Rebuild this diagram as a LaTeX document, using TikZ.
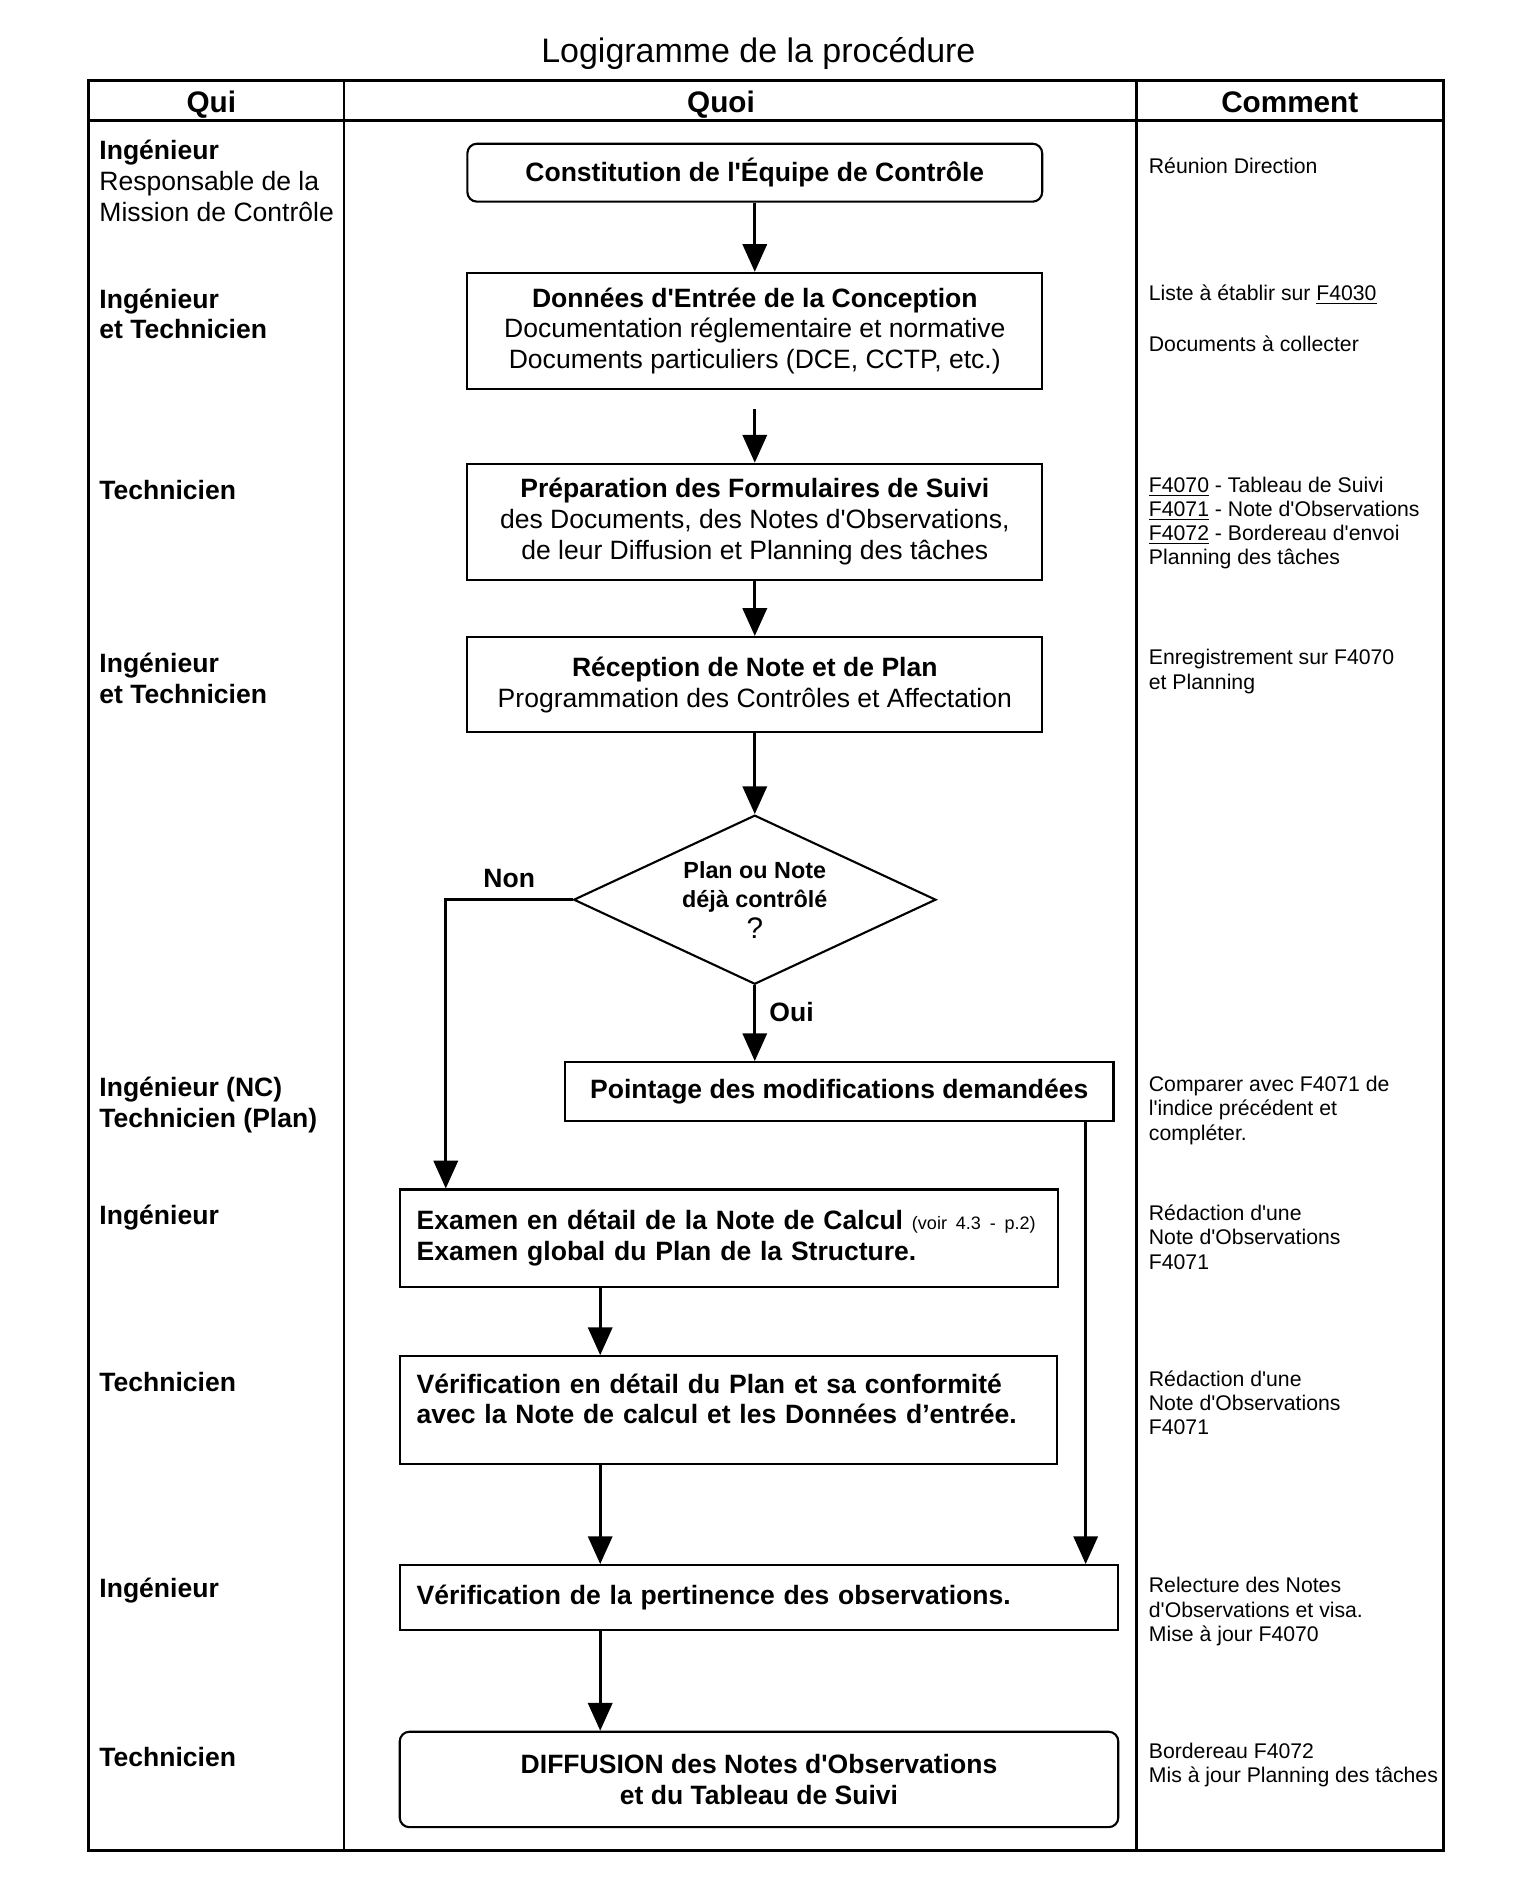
\documentclass[tikz,border=0pt]{standalone}
\usepackage{fontspec}
\setmainfont{Liberation Sans}[Ligatures=TeXOff]
\usetikzlibrary{arrows.meta,shapes.geometric}

\tikzset{
  etape/.style={draw, line width=0.35mm, inner sep=0pt, align=center,
    minimum width=95.2mm, font=\fontsize{12.5}{14.5}\selectfont},
  etapegauche/.style={draw, line width=0.35mm, inner xsep=2.8mm, inner ysep=0pt,
    align=left, font=\fontsize{12.5}{14.5}\selectfont\bfseries},
  qui/.style={anchor=west, align=left, inner sep=0pt, font=\fontsize{12.5}{14.5}\selectfont},
  comment/.style={anchor=west, align=left, inner sep=0pt, font=\fontsize{10}{11.4}\selectfont},
  entete/.style={anchor=base, font=\fontsize{14}{16}\selectfont\bfseries},
  fleche/.style={-{Triangle[width=4mm,length=4.6mm]}, line width=0.5mm},
}

\begin{document}
\begin{tikzpicture}[x=0.2mm,y=-0.2mm]
\useasboundingbox (0,0) rectangle (1272,1570);

% le tableau
\node (titre) at (628,44) {\fontsize{16}{18}\selectfont Logigramme de la procédure};
\draw[line width=0.5mm] (73,67) rectangle (1195,1532);
\draw[line width=0.5mm] (73,100) -- (1195,100);
\draw[line width=0.4mm] (285,67) -- (285,1532);
\draw[line width=0.4mm] (941,67) -- (941,1532);
\node[entete] (hqui) at (175,93) {Qui};
\node[entete] (hquoi) at (597,93) {Quoi};
\node[entete] (hcomment) at (1068,93) {Comment};

% colonne Qui
\node[qui] (qui1) at (82,150) {\textbf{Ingénieur}\\Responsable de la\\Mission de Contrôle};
\node[qui] (qui2) at (82,260) {\textbf{Ingénieur}\\\textbf{et Technicien}};
\node[qui] (qui3) at (82,406) {\textbf{Technicien}};
\node[qui] (qui4) at (82,562) {\textbf{Ingénieur}\\\textbf{et Technicien}};
\node[qui] (qui5) at (82,915) {\textbf{Ingénieur (NC)}\\\textbf{Technicien (Plan)}};
\node[qui] (qui6) at (82,1008) {\textbf{Ingénieur}};
\node[qui] (qui7) at (82,1144) {\textbf{Technicien}};
\node[qui] (qui8) at (82,1317) {\textbf{Ingénieur}};
\node[qui] (qui9) at (82,1455) {\textbf{Technicien}};

% colonne Quoi
\node[etape, rounded corners=1.6mm, minimum height=9.6mm] (c1) at (625,143)
  {\textbf{Constitution de l'Équipe de Contrôle}};
\node[etape, minimum height=19.2mm] (c2) at (625,274)
  {\textbf{Données d'Entrée de la Conception}\\Documentation réglementaire et normative\\Documents particuliers (DCE, CCTP, etc.)};
\node[etape, minimum height=19.2mm] (c3) at (625,432)
  {\textbf{Préparation des Formulaires de Suivi}\\des Documents, des Notes d'Observations,\\de leur Diffusion et Planning des tâches};
\node[etape, minimum height=15.8mm] (c4) at (625,567)
  {\textbf{Réception de Note et de Plan}\\Programmation des Contrôles et Affectation};
\node[draw, diamond, aspect=2.2, line width=0.35mm, inner sep=0pt, minimum width=60mm, minimum height=28mm,
  align=center, font=\fontsize{11}{13.7}\selectfont\bfseries] (q) at (625,745)
  {Plan ou Note\\déjà contrôlé\\[1pt]{\fontsize{14}{14}\selectfont\mdseries ?}};
\node[etape, minimum width=90.8mm, minimum height=9.8mm] (c6) at (695,904)
  {\textbf{Pointage des modifications demandées}};
\node[etapegauche, text width=103.4mm, minimum height=16.2mm] (c7) at (603.5,1025.5)
  {Examen en détail de la Note de Calcul \mbox{\fontsize{8.5}{10}\selectfont\mdseries (voir 4.3 - p.2)}\\Examen global du Plan de la Structure.};
\node[etapegauche, text width=103.2mm, minimum height=17.8mm] (c8) at (603,1167.5)
  {Vérification en détail du Plan et sa conformité\\avec la Note de calcul et les Données d’entrée.\\[-4pt]\mbox{}};
\node[etapegauche, text width=113.4mm, minimum height=10.8mm] (c9) at (628.5,1323)
  {Vérification de la pertinence des observations.};
\node[etape, rounded corners=1.6mm, minimum width=119mm, minimum height=15.8mm] (c10) at (628.5,1473.5)
  {\textbf{DIFFUSION des Notes d'Observations}\\\textbf{et du Tableau de Suivi}};

% colonne Comment
\node[comment] (com1) at (951,137) {Réunion Direction};
\node[comment] (com2) at (951,244) {Liste à établir sur \underline{F4030}};
\node[comment] (com3) at (951,285) {Documents à collecter};
\node[comment] (com4) at (951,433) {\underline{F4070} - Tableau de Suivi\\\underline{F4071} - Note d'Observations\\\underline{F4072} - Bordereau d'envoi\\Planning des tâches};
\node[comment] (com5) at (951,556) {Enregistrement sur F4070\\et Planning};
\node[comment] (com6) at (951,919.5) {Comparer avec F4071 de\\l'indice précédent et\\compléter.};
\node[comment] (com7) at (951,1024.5) {Rédaction d'une\\Note d'Observations\\F4071};
\node[comment] (com8) at (951,1161.5) {Rédaction d'une\\Note d'Observations\\F4071};
\node[comment] (com9) at (951,1334.5) {Relecture des Notes\\d'Observations et visa.\\Mise à jour F4070};
\node[comment] (com10) at (951,1461.5) {Bordereau F4072\\Mis à jour Planning des tâches};

% les fleches
\coordinate (d2) at ([yshift=-3.2mm]c2.south);
\coordinate (axe) at (497,0);
\coordinate (axe2) at (899,0);
\draw[fleche] (c1.south) -- (c2.north);
\draw[fleche] (d2) -- (c3.north);
\draw[fleche] (c3.south) -- (c4.north);
\draw[fleche] (c4.south) -- (q.north);
\draw[fleche] (q.south) -- node[pos=0.35, right, xshift=1mm, font=\fontsize{12.5}{14}\selectfont\bfseries] {Oui} (q.south |- c6.north);
\draw[fleche] (q.west) -| node[pos=0.25, above, yshift=0.6mm, font=\fontsize{12.5}{14}\selectfont\bfseries] {Non} ([xshift=7.8mm]c7.north west);
\draw[fleche] (c7.south -| axe) -- (c8.north -| axe);
\draw[fleche] (c8.south -| axe) -- (c9.north -| axe);
\draw[fleche] (c6.south -| axe2) -- (c9.north -| axe2);
\draw[fleche] (c9.south -| axe) -- (c10.north -| axe);

\end{tikzpicture}
\end{document}
